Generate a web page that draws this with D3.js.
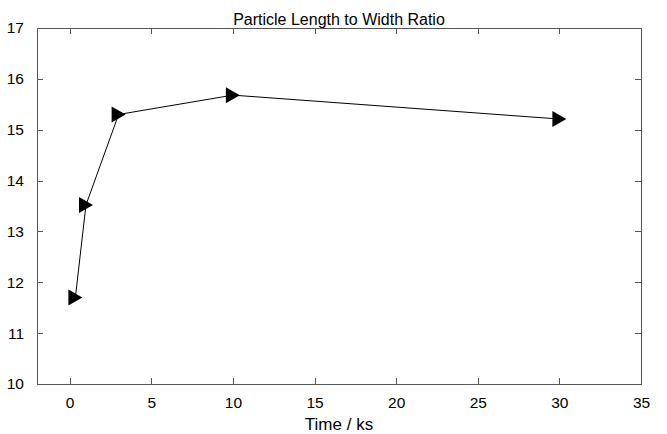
<!DOCTYPE html>
<html lang="en">
<head>
    <meta charset="UTF-8">
    <title>Particle Length to Width Ratio</title>
    <script src="https://cdn.jsdelivr.net/npm/d3@7"></script>
    <style>
        body { margin: 0; background: #fff; }
        .axis path, .axis line
        {
            fill: none;
            stroke: #555;
            shape-rendering: crispEdges;
        }
        .axis text
        {
            font-family: 'Liberation Sans', Arial, sans-serif;
            font-size: 15.5px;
            fill: #000;
        }
        .label
        {
            font-family: 'Liberation Sans', Arial, sans-serif;
            font-size: 16px;
            fill: #000;
        }
    </style>
</head>
<body>
<svg id="img" width="667" height="434"></svg>
<script>
    // time (ks) vs length/width ratio
    var times = [0.35, 1, 3, 10, 30];
    var ratios = [11.7, 13.52, 15.3, 15.68, 15.21];
    var xTicks = [0, 5, 10, 15, 20, 25, 30, 35];
    var yTicks = [10, 11, 12, 13, 14, 15, 16, 17];

    var data = times.map(function (t, i) { return {x: t, y: ratios[i]}; });

    var vis = d3.select("#img"),
        MARGINS = {left: 37, right: 641, top: 28, bottom: 384};

    var xRange = d3.scaleLinear().domain([-2, 35]).range([MARGINS.left, MARGINS.right]);
    var yRange = d3.scaleLinear().domain([10, 17]).range([MARGINS.bottom, MARGINS.top]);

    // ticks inward on all four sides
    vis.append("g")
        .attr("class", "axis")
        .attr("transform", "translate(0," + MARGINS.bottom + ")")
        .call(d3.axisBottom(xRange).tickValues(xTicks).tickSize(-6).tickPadding(13)
            .tickSizeOuter(0).tickFormat(d3.format("d")));

    vis.append("g")
        .attr("class", "axis")
        .attr("transform", "translate(0," + MARGINS.top + ")")
        .call(d3.axisTop(xRange).tickValues(xTicks).tickSize(-6).tickSizeOuter(0).tickFormat(""));

    vis.append("g")
        .attr("class", "axis")
        .attr("transform", "translate(" + MARGINS.left + ",0)")
        .call(d3.axisLeft(yRange).tickValues(yTicks).tickSize(-6).tickPadding(13)
            .tickSizeOuter(0).tickFormat(d3.format("d")));

    vis.append("g")
        .attr("class", "axis")
        .attr("transform", "translate(" + MARGINS.right + ",0)")
        .call(d3.axisRight(yRange).tickValues(yTicks).tickSize(-6).tickSizeOuter(0).tickFormat(""));

    var lineFunc = d3.line()
        .x(function (d) { return xRange(d.x); })
        .y(function (d) { return yRange(d.y); });

    vis.append("path")
        .attr("d", lineFunc(data))
        .attr("stroke", "#000")
        .attr("stroke-width", 1)
        .attr("fill", "none");

    // right-pointing triangle markers
    vis.selectAll(".marker")
        .data(data)
        .enter().append("path")
        .attr("class", "marker")
        .attr("d", "M-7,-8L7,0L-7,8Z")
        .attr("transform", function (d) {
            return "translate(" + xRange(d.x) + "," + yRange(d.y) + ")";
        })
        .attr("fill", "#000");

    vis.append("text")
        .attr("class", "label")
        .attr("x", (MARGINS.left + MARGINS.right) / 2)
        .attr("y", 25)
        .attr("text-anchor", "middle")
        .text("Particle Length to Width Ratio");

    vis.append("text")
        .attr("class", "label")
        .attr("x", (MARGINS.left + MARGINS.right) / 2)
        .attr("y", 430)
        .attr("text-anchor", "middle")
        .style("font-size", "17px")
        .text("Time / ks");
</script>
</body>
</html>
